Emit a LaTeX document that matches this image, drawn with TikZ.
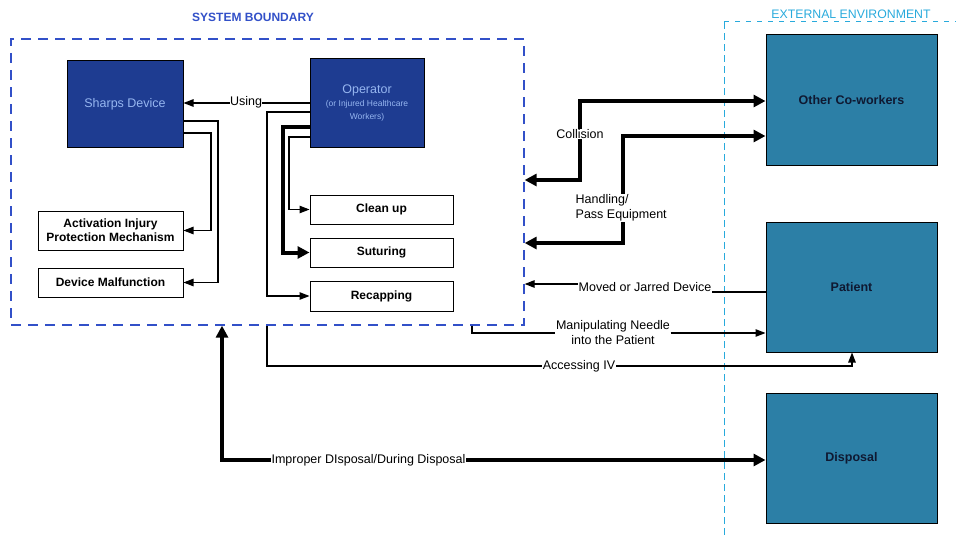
\documentclass[tikz,border=0pt]{standalone}
\usepackage{fontspec}
\setmainfont{Liberation Sans}
\usetikzlibrary{arrows.meta}
\definecolor{navybox}{RGB}{30,60,145}
\definecolor{lighttext}{RGB}{150,182,240}
\definecolor{envteal}{RGB}{44,127,166}
\definecolor{darktext}{RGB}{15,25,50}
\definecolor{sysblue}{RGB}{50,80,200}
\definecolor{envcyan}{RGB}{40,170,220}
\begin{document}
\begin{tikzpicture}[x=1pt,y=-1pt,
  darkbox/.style={draw=black, line width=1pt, fill=navybox, text=lighttext, inner sep=0pt, align=center, font=\fontsize{12.5}{14}\selectfont},
  whitebox/.style={draw=black, line width=1pt, fill=white, inner sep=0pt, align=center, font=\bfseries\fontsize{12}{14}\selectfont},
  tealbox/.style={draw=black, line width=1pt, fill=envteal, text=darktext, inner sep=0pt, minimum width=171pt, minimum height=130pt, font=\bfseries\fontsize{12.5}{14}\selectfont},
  lbl/.style={inner sep=0.5pt, font=\fontsize{12.5}{15}\selectfont},
  thin/.style={line width=1.2pt},
  conn/.style={line width=1.2pt, -{Triangle[length=10pt,width=7.5pt]}},
  thickconn/.style={line width=4pt, -{Triangle[length=12pt,width=12pt]}},
  thickboth/.style={line width=4pt, {Triangle[length=12pt,width=12pt]}-{Triangle[length=12pt,width=12pt]}}
]
\useasboundingbox (0,0) rectangle (956,535);

% titles
\node[text=sysblue, font=\bfseries\fontsize{12}{14}\selectfont] (systitle) at (253,17) {SYSTEM BOUNDARY};
\node[text=envcyan, font=\fontsize{12.3}{14}\selectfont] (envtitle) at (851,14) {EXTERNAL ENVIRONMENT};

% boundaries
\node[draw=sysblue, line width=1.3pt, dash pattern=on 10pt off 7pt, minimum width=513pt, minimum height=286pt, inner sep=0pt] (sys) at (267.5,182) {};
\draw[envcyan, line width=1pt, dash pattern=on 7pt off 4pt] (724,535) -- (724,22);
\draw[envcyan, line width=1pt, dash pattern=on 5pt off 6pt] (724,22) -- (956,22);

% inner boxes
\node[darkbox, minimum width=116pt, minimum height=86pt] (sharps) at (125,104) {Sharps Device};
\node[darkbox, minimum width=114pt, minimum height=88pt] (op) at (367,103) {Operator\\[-1pt]{\fontsize{8.5}{10}\selectfont (or Injured Healthcare}\\[-1pt]{\fontsize{8.5}{10}\selectfont Workers)}};
\node[whitebox, minimum width=145pt, minimum height=39pt] (act) at (110.5,230.5) {Activation Injury\\Protection Mechanism};
\node[whitebox, minimum width=145pt, minimum height=29pt] (mal) at (110.5,282.5) {Device Malfunction};
\node[whitebox, minimum width=143pt, minimum height=29pt] (clean) at (381.5,209.5) {Clean up};
\node[whitebox, minimum width=143pt, minimum height=29pt] (sut) at (381.5,252.5) {Suturing};
\node[whitebox, minimum width=143pt, minimum height=30pt] (recap) at (381.5,296) {Recapping};

% external boxes
\node[tealbox] (cow) at (851.5,100) {Other Co-workers};
\node[tealbox] (pat) at (851.5,287) {Patient};
\node[tealbox] (disp) at (851.5,458) {Disposal};

% label nodes used as path ends
\node[lbl] (mj) at (645,287) {Moved or Jarred Device};
\node[lbl, align=center] (mn) at (613,333) {Manipulating Needle\\into the Patient};

% inner connectors
\draw[conn] (op.west |- 0,103) -- (sharps.east |- 0,103);
\draw[conn] (sharps.east |- 0,121) -| (218,200) |- (mal.east);
\draw[conn] (sharps.east |- 0,133) -| (211,200) |- (act.east);
\draw[conn] (op.west |- 0,112) -| (267,200) |- (recap.west);
\draw[thickconn] (op.west |- 0,127) -| (283,200) |- (sut.west);
\draw[conn] (op.west |- 0,137) -| (289,180) |- (clean.west);

% outer connectors
\draw[thickboth] (sys.east |- 0,180) -| (580,140) |- (cow.west |- 0,101);
\draw[thickboth] (sys.east |- 0,243) -| (623,200) |- (cow.west |- 0,136);
\draw[thin] (pat.west |- 0,292) -- (mj.east |- 0,292);
\draw[conn] (mj.west |- 0,284) -- (sys.east |- 0,284);
\draw[thin] (472,0 |- sys.south) |- (mn.west |- 0,333);
\draw[conn] (mn.east |- 0,333) -- (pat.west |- 0,333);
\draw[conn] (267,0 |- sys.south) |- (852,366) -- (pat.south -| 852,0);
\draw[thickboth] (222,0 |- sys.south) |- (disp.west |- 0,460);

% labels over lines
\node[lbl, fill=white] (using) at (246,102) {Using};
\node[lbl, fill=white] (coll) at (580,134) {Collision};
\node[lbl, fill=white, anchor=west, align=left] (hand) at (575,208) {Handling/\\Pass Equipment};
\node[lbl, fill=white] (aiv) at (579,366) {Accessing IV};
\node[lbl, fill=white] (imp) at (368.5,460) {Improper DIsposal/During Disposal};
\end{tikzpicture}
\end{document}
